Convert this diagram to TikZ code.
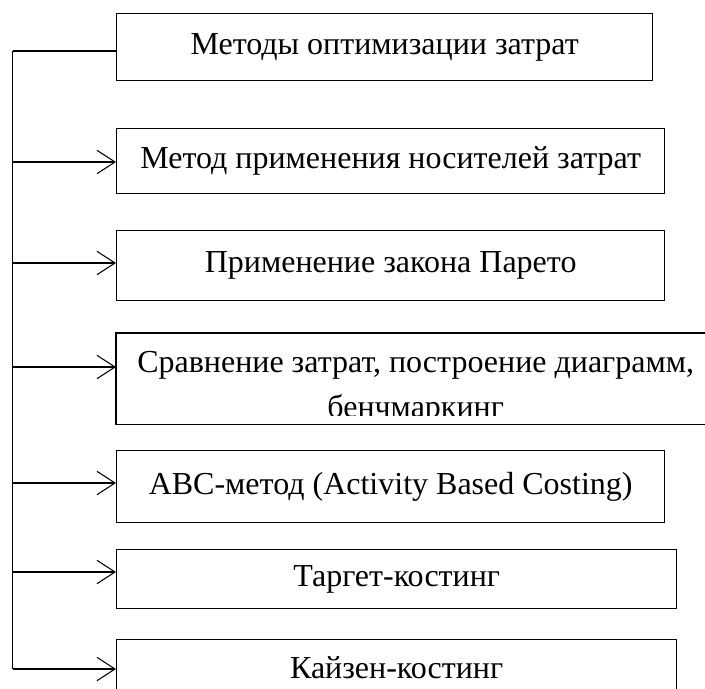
\documentclass[tikz,border=0pt]{standalone}
\usepackage{fontspec}
\setmainfont{Liberation Serif}
\usetikzlibrary{arrows.meta, positioning}

\begin{document}
\begin{tikzpicture}[x=0.75pt, y=-0.75pt,
        box/.style={rectangle, draw, line width=1pt, inner sep=0pt, align=center, anchor=north west, font=\fontsize{24}{33.75}\selectfont},
        link/.style={draw, line width=0.8pt, -{Straight Barb[length=13.5pt, width=17.5pt]}},
        trunk/.style={draw, line width=1.4pt}]

        \useasboundingbox (0,0) rectangle (705,688);

        % Boxes
        \node [box, minimum width=402pt, minimum height=50.25pt] (head) at (116,13) {Методы оптимизации затрат};
        \node [box, minimum width=411pt, minimum height=48.75pt] (carriers) at (116,128) {Метод применения носителей затрат};
        \node [box, minimum width=411pt, minimum height=52.5pt] (pareto) at (116,230) {Применение закона Парето};
        \begin{scope}
            \clip (0,0) rectangle (720,415);
            \node [box, draw=none, minimum width=448.5pt, minimum height=67.5pt, text height=63pt, text depth=4.5pt] (bench) at (116,333) {Сравнение затрат, построение диаграмм,\\бенчмаркинг};
        \end{scope}
        \draw [line width=1pt] (bench.north west) rectangle (bench.south east);
        \node [box, minimum width=411pt, minimum height=54pt] (abc) at (116,450) {ABC-метод (Activity Based Costing)};
        \node [box, minimum width=420pt, minimum height=44.25pt] (target) at (116,549) {Таргет-костинг};
        \node [box, minimum width=420pt, minimum height=42pt] (kaizen) at (116,639) {Кайзен-костинг};

        % Trunk
        \coordinate (t0) at (12.5,51);
        \coordinate (t1) at (12.5,162);
        \coordinate (t2) at (12.5,263);
        \coordinate (t3) at (12.5,367);
        \coordinate (t4) at (12.5,483);
        \coordinate (t5) at (12.5,572);
        \coordinate (t6) at (12.5,669);
        \path [trunk] (t0) -- (t6);
        \draw [line width=0.8pt] (t0) -- (t0 -| head.west);

        % Arrows
        \path [link] (t1) -- (t1 -| carriers.west);
        \path [link] (t2) -- (t2 -| pareto.west);
        \path [link] (t3) -- (t3 -| bench.west);
        \path [link] (t4) -- (t4 -| abc.west);
        \path [link] (t5) -- (t5 -| target.west);
        \path [link] (t6) -- (t6 -| kaizen.west);
    \end{tikzpicture}
\end{document}
